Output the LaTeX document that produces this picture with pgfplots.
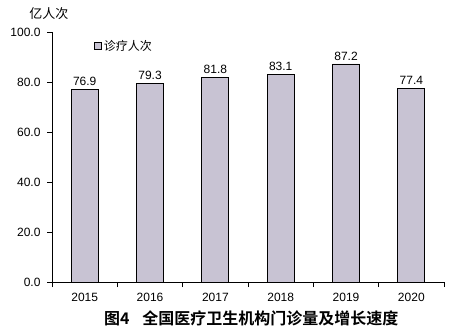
\documentclass[border=0pt]{standalone}
\usepackage{pgfplots}
\pgfplotsset{compat=1.18}
\usepackage{fontspec}
\setmainfont{Liberation Sans}
\newfontfamily\cjk{Noto Sans CJK SC}
\newfontfamily\cjkb{Noto Sans CJK SC Bold}
\definecolor{barfill}{RGB}{200,195,211}
\begin{document}
\begin{tikzpicture}
\begin{axis}[
  scale only axis,
  width=392pt, height=250pt,
  xmin=-0.5, xmax=5.5,
  ymin=0, ymax=100,
  axis lines=left,
  axis line style={-, black, line width=0.8pt},
  xtick={0,1,2,3,4,5},
  xticklabels={2015,2016,2017,2018,2019,2020},
  major x tick style={draw=none},
  minor xtick={-0.5,0.5,1.5,2.5,3.5,4.5,5.5},
  minor tick length=5pt,
  minor x tick style={black, line width=0.8pt},
  ytick={0,20,40,60,80,100},
  y tick label style={/pgf/number format/fixed, /pgf/number format/fixed zerofill, /pgf/number format/precision=1, xshift=-3pt},
  /pgf/number format/assume math mode=true,
  major tick length=5pt,
  tick align=outside,
  y tick style={black, line width=0.8pt},
  tick label style={font=\fontsize{12}{14}\selectfont},
  x tick label style={yshift=-3pt},
  nodes near coords,
  every node near coord/.append style={font=\fontsize{12}{14}\selectfont, /pgf/number format/fixed, /pgf/number format/fixed zerofill, /pgf/number format/precision=1, /pgf/number format/assume math mode=true},
  point meta=explicit,
  legend style={at={(axis description cs:0.1,0.985)}, anchor=north west, draw=none, fill=none, font=\cjk\fontsize{12}{14}\selectfont},
  legend image code/.code={\draw[#1, draw=black, line width=0.5pt] (0cm,-3pt) rectangle (7pt,4pt);},
  clip=false,
]
\addplot[ybar, bar width=27pt, fill=barfill, draw=black, line width=0.8pt]
  coordinates {(0,76.9) [76.9] (1,79.3) [79.3] (2,81.8) [81.8] (3,83.1) [83.1] (4,87.2) [87.2] (5,77.4) [77.4]};
\addlegendentry{诊疗人次}
\node[font=\cjk\fontsize{13}{15}\selectfont] at (axis description cs:-0.008,1.072) {亿人次};
\node[font=\cjkb\fontsize{16}{18}\selectfont] at (axis description cs:0.508,-0.144) {图4\hspace{0.8em}全国医疗卫生机构门诊量及增长速度};
\path (axis description cs:-0.1327,1.128) (axis description cs:1.0306,-0.212);
\end{axis}
\end{tikzpicture}
\end{document}
